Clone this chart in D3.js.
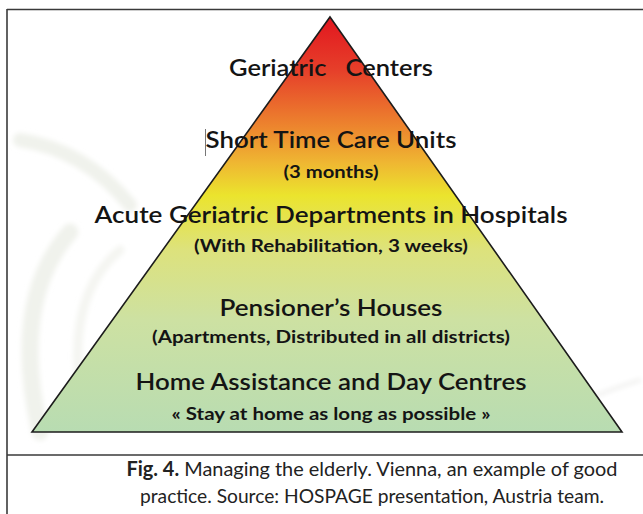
<!DOCTYPE html>
<html>
<head>
<meta charset="utf-8">
<script src="https://cdn.jsdelivr.net/npm/d3@7"></script>
<style>
  html, body { margin: 0; padding: 0; background: #fff; }
  svg { display: block; }
  text { white-space: pre; }
</style>
</head>
<body>
<svg id="chart" width="643" height="514"></svg>
<script>
// ---- data ----
const levels = [
  "Geriatric   Centers",
  "Short Time Care Units",
  "Acute Geriatric Departments in Hospitals",
  "Pensioner\u2019s Houses",
  "Home Assistance and Day Centres"
];
const subtitles = [
  "",
  "(3 months)",
  "(With Rehabilitation, 3 weeks)",
  "(Apartments, Distributed in all districts)",
  "\u00AB Stay at home as long as possible \u00BB"
];
const captionBold = "Fig. 4.";
const captionLines = [
  " Managing the elderly. Vienna, an example of good",
  "practice. Source: HOSPAGE presentation, Austria team."
];
const gradientColors = ["#e2161f", "#e6402a", "#ed882e", "#efb632", "#ebe42d", "#dde27c", "#cde1a2", "#b8dcb2"];
const gradientOffsets = [0, 0.13, 0.27, 0.35, 0.43, 0.56, 0.73, 1];

// ---- layout ----
const W = 643, H = 514;
const apex = { x: 330, y: 17 };
const baseY = 432, baseL = 32, baseR = 622;
const titleY = [76, 148, 223, 316, 390];
const titleW = [204, 251, 473, 223, 391];
const subY = [0, 178, 252, 343, 420];
const subW = [0, 95, 274, 358, 319];
const capY = [476, 503];
const capW = [491, 464];

const svg = d3.select("#chart");

// vertical scale: fraction of pyramid height -> y
const yS = d3.scaleLinear().domain([0, 1]).range([apex.y, baseY]);
const xL = d3.scaleLinear().domain([0, 1]).range([apex.x, baseL]);
const xR = d3.scaleLinear().domain([0, 1]).range([apex.x, baseR]);

const defs = svg.append("defs");
const grad = defs.append("linearGradient")
  .attr("id", "pg").attr("gradientUnits", "userSpaceOnUse")
  .attr("x1", 0).attr("y1", yS(0)).attr("x2", 0).attr("y2", yS(1));
grad.selectAll("stop").data(gradientColors).join("stop")
  .attr("offset", (d, i) => gradientOffsets[i])
  .attr("stop-color", d => d);
defs.append("filter").attr("id", "soft").append("feGaussianBlur").attr("stdDeviation", 2.5);

// faint watermark swooshes (background decoration)
const wm = svg.append("g").attr("fill", "none").attr("stroke", "#f0f2ec")
  .attr("stroke-linecap", "round").attr("filter", "url(#soft)");
function curve(x0, y0, cx, cy, x1, y1) {
  const p = d3.path(); p.moveTo(x0, y0); p.quadraticCurveTo(cx, cy, x1, y1); return p.toString();
}
wm.append("path").attr("d", curve(20, 140, 85, 150, 130, 205)).attr("stroke-width", 14);
wm.append("path").attr("d", curve(70, 232, 10, 300, 40, 432)).attr("stroke-width", 17);
wm.append("path").attr("d", curve(120, 250, 60, 300, 85, 420)).attr("stroke-width", 9).attr("stroke", "#f4f5f1");
wm.append("path").attr("d", curve(585, 400, 615, 388, 640, 380)).attr("stroke-width", 3).attr("stroke", "#eeeeec");

// frame
const frame = svg.append("g").attr("stroke", "#3a3a3a").attr("stroke-width", 1.6).attr("fill", "none");
frame.append("line").attr("x1", 7).attr("x2", W).attr("y1", 9.5).attr("y2", 9.5);
frame.append("line").attr("x1", 7).attr("x2", 7).attr("y1", 9).attr("y2", H);
frame.append("line").attr("x1", 7).attr("x2", W).attr("y1", 455).attr("y2", 455);

// pyramid
const tri = [[xL(0), yS(0)], [xR(1), yS(1)], [xL(1), yS(1)]];
svg.append("path")
  .attr("d", d3.line()(tri) + "Z")
  .attr("fill", "url(#pg)")
  .attr("stroke", "#1c1c1c")
  .attr("stroke-width", 1.6)
  .attr("stroke-linejoin", "miter");

// titles
const tg = svg.append("g").attr("font-family", "Lato, 'Open Sans', sans-serif").attr("text-anchor", "middle");
tg.selectAll("text.title").data(levels).join("text")
  .attr("class", "title")
  .attr("x", apex.x + 1)
  .attr("y", (d, i) => titleY[i])
  .attr("font-size", 23)
  .attr("font-weight", 600)
  .attr("fill", "#141414")
  .attr("textLength", (d, i) => titleW[i])
  .attr("lengthAdjust", "spacingAndGlyphs")
  .text(d => d);

tg.selectAll("text.sub").data(subtitles.filter(d => d)).join("text")
  .attr("class", "sub")
  .attr("x", apex.x + 1)
  .attr("y", d => subY[subtitles.indexOf(d)])
  .attr("font-size", 16.5)
  .attr("font-weight", 700)
  .attr("fill", "#141414")
  .attr("textLength", d => subW[subtitles.indexOf(d)])
  .attr("lengthAdjust", "spacingAndGlyphs")
  .text(d => d);

// text cursor mark before "Short"
svg.append("line")
  .attr("x1", 205.5).attr("x2", 205.5).attr("y1", 129).attr("y2", 156)
  .attr("stroke", "#777").attr("stroke-width", 1);

// caption
const cg = svg.append("g").attr("font-family", "Lato, 'Open Sans', sans-serif")
  .attr("font-size", 20).attr("fill", "#222").attr("text-anchor", "middle");
const c1 = cg.append("text").attr("x", 372).attr("y", capY[0])
  .attr("textLength", capW[0]).attr("lengthAdjust", "spacingAndGlyphs");
c1.append("tspan").attr("font-weight", 700).text(captionBold);
c1.append("tspan").text(captionLines[0]);
cg.append("text").attr("x", 372).attr("y", capY[1])
  .attr("textLength", capW[1]).attr("lengthAdjust", "spacingAndGlyphs")
  .text(captionLines[1]);
</script>
</body>
</html>
